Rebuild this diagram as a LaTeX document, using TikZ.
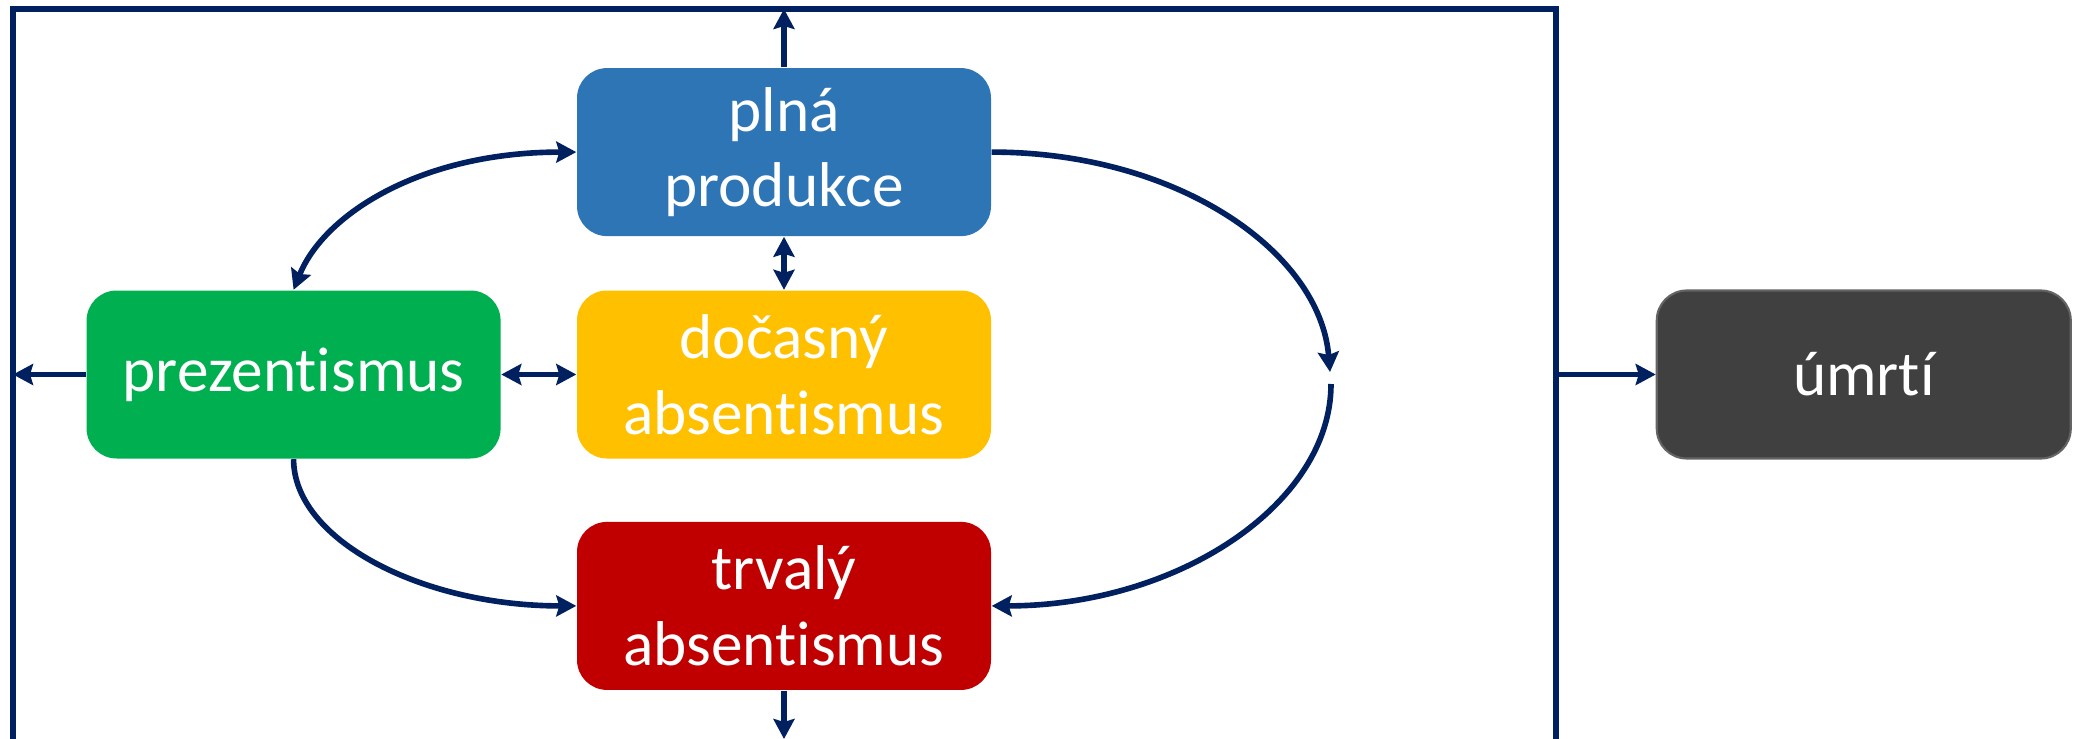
\documentclass[tikz,border=0pt]{standalone}
\usepackage{fontspec}
\setmainfont{Carlito}[Ligatures=NoCommon]
\usetikzlibrary{arrows.meta,positioning}
\definecolor{navy}{HTML}{002060}
\definecolor{plnacol}{HTML}{2E75B6}
\definecolor{docasnycol}{HTML}{FFC000}
\definecolor{prezcol}{HTML}{00B050}
\definecolor{trvalycol}{HTML}{C00000}
\definecolor{umrticol}{HTML}{404040}
\definecolor{umrtiline}{HTML}{646464}

\begin{document}
\begin{tikzpicture}[box/.style={rectangle, rounded corners=3mm, minimum width=4.14cm,
                        minimum height=1.68cm, inner sep=0pt, text=white, align=center,
                        font=\fontsize{18}{21.5}\selectfont},
                    link/.style={draw=navy, line width=1.6pt},
                    toarrow/.style={-{Stealth[length=2mm,width=2.1mm,inset=0.3mm]}},
                    dualarrow/.style={{Stealth[length=2mm,width=2.1mm,inset=0.3mm]}-{Stealth[length=2mm,width=2.1mm,inset=0.3mm]}}]
                    \useasboundingbox (0,0) rectangle (20.75,-7.39);

                    \node (Docasny) [box, fill=docasnycol] at (7.84,-3.745) {dočasný\\absentismus};
                    \node (Plna) [box, fill=plnacol, above=0.53cm of Docasny] {plná\\produkce};
                    \node (Trvaly) [box, fill=trvalycol, below=0.62cm of Docasny] {trvalý\\absentismus};
                    \node (Prez) [box, fill=prezcol, left=0.75cm of Docasny] {prezentismus};
                    \node (Umrti) [box, fill=umrticol, draw=umrtiline, line width=0.6pt,
                        right=6.64cm of Docasny] {úmrtí};

                    % frame
                    \coordinate (FrameTop) at (0,-0.09);
                    \coordinate (FrameLeft) at (0.13,0);
                    \coordinate (FrameRight) at (15.56,0);
                    \coordinate (FrameBottom) at (0,-7.39);
                    \draw[link] (FrameLeft |- FrameBottom) -- (FrameLeft |- FrameTop)
                        -- (FrameRight |- FrameTop) -- (FrameRight |- FrameBottom);

                    % straight arrows
                    \draw[link, toarrow] (Plna.north) -- (Plna.north |- FrameTop);
                    \draw[link, dualarrow] (Plna.south) -- (Docasny.north);
                    \draw[link, dualarrow] (Prez.east) -- (Docasny.west);
                    \draw[link, toarrow] (Prez.west) -- (Prez.west -| FrameLeft);
                    \draw[link, toarrow] (Trvaly.south) -- (Trvaly.south |- FrameBottom);
                    \draw[link, toarrow] (Umrti.west -| FrameRight) -- (Umrti.west);

                    % curved arrows
                    \coordinate (BendTop) at (13.30,-3.72);
                    \coordinate (BendBot) at (13.31,-3.84);
                    \draw[link, dualarrow] (Prez.north) .. controls +(0.3,0.75) and +(-1.56,0) .. (Plna.west);
                    \draw[link, toarrow] (Prez.south) .. controls +(0,-0.8) and +(-1.56,0) .. (Trvaly.west);
                    \draw[link, toarrow] (Plna.east) .. controls +(1.86,0) and +(-0.1,1.2) .. (BendTop);
                    \draw[link, toarrow] (BendBot) .. controls +(0,-1.2) and +(1.86,0) .. (Trvaly.east);
                \end{tikzpicture}
\end{document}
